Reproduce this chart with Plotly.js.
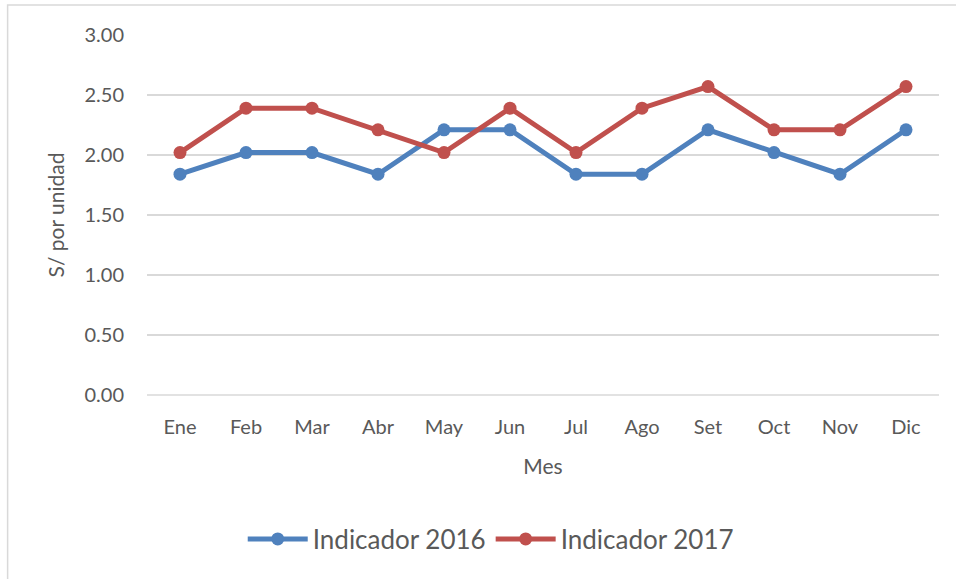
<!DOCTYPE html>
<html>
<head>
<meta charset="utf-8">
<script src="https://cdn.plot.ly/plotly-3.0.1.min.js"></script>
<style>html,body{margin:0;padding:0;background:#fff;}#chart{width:956px;height:579px;}</style>
</head>
<body>
<div id="chart"></div>
<script>
const meses = ["Ene","Feb","Mar","Abr","May","Jun","Jul","Ago","Set","Oct","Nov","Dic"];
const indicador2016 = [1.84, 2.02, 2.02, 1.84, 2.21, 2.21, 1.84, 1.84, 2.21, 2.02, 1.84, 2.21];
const indicador2017 = [2.02, 2.39, 2.39, 2.21, 2.02, 2.39, 2.02, 2.39, 2.57, 2.21, 2.21, 2.57];

const fontFam = "Lato, 'Open Sans', sans-serif";
const traces = [
  {x: meses, y: indicador2016, name: "Indicador 2016", type: "scatter", mode: "lines+markers",
   line: {color: "#4F81BD", width: 5}, marker: {color: "#4F81BD", size: 13}},
  {x: meses, y: indicador2017, name: "Indicador 2017", type: "scatter", mode: "lines+markers",
   line: {color: "#C0504D", width: 5}, marker: {color: "#C0504D", size: 13}}
];
const layout = {
  width: 956, height: 579,
  margin: {l: 147, r: 17, t: 35, b: 184},
  paper_bgcolor: "#fff", plot_bgcolor: "#fff",
  font: {family: fontFam, color: "#595959", size: 20},
  hovermode: false,
  showlegend: true,
  legend: {orientation: "h", x: 0.434, xanchor: "center", y: -0.40, yanchor: "middle",
           font: {size: 26, color: "#595959"}, itemwidth: 60},
  xaxis: {type: "category", range: [-0.5, 11.5], showgrid: false, zeroline: false,
          showline: false, ticks: "", tickfont: {size: 20}, ticklabelstandoff: 18,
          title: {text: "Mes", font: {size: 21, color: "#595959"}, standoff: 22}},
  yaxis: {range: [0, 3], dtick: 0.5, tickformat: ".2f", showgrid: true, gridcolor: "#d9d9d9",
          gridwidth: 1.3, zeroline: false, showline: false, ticks: "",
          tickfont: {size: 20}, ticklabelstandoff: 22,
          title: {text: "S/ por unidad", font: {size: 21, color: "#595959"}, standoff: 14}},
  shapes: [
    {type: "line", xref: "paper", yref: "paper", x0: 0, x1: 1, y0: 0, y1: 0,
     line: {color: "#d9d9d9", width: 1.3}, layer: "below"},
    {type: "rect", xref: "paper", yref: "paper", x0: -0.176, x1: 1.03, y0: 1.083, y1: -0.55,
     line: {color: "#d9d9d9", width: 1.5}, fillcolor: "rgba(0,0,0,0)"}
  ]
};
Plotly.newPlot("chart", traces, layout, {displayModeBar: false, staticPlot: true});
</script>
</body>
</html>
